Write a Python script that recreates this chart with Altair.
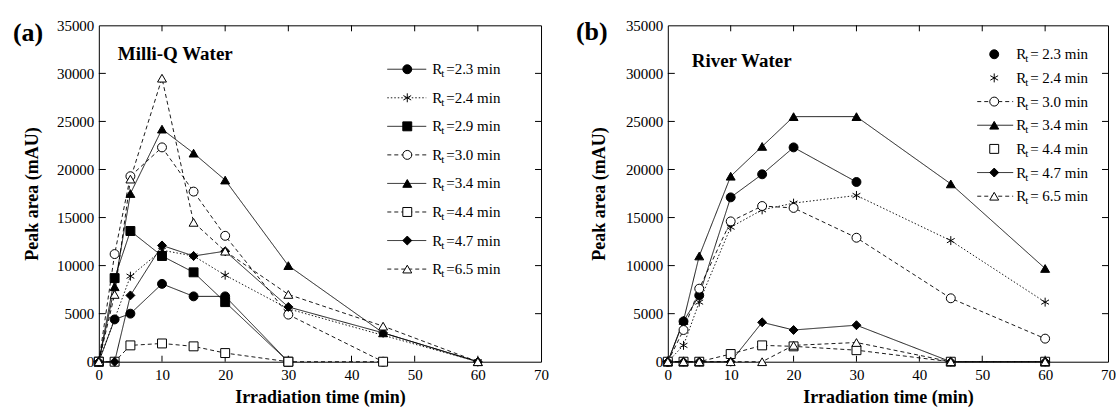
import altair as alt
import pandas as pd

FONT = "Liberation Serif"
H = 337

# Irradiation times (min)
TIME = [0, 2.5, 5, 10, 15, 20, 30, 45, 60]
X_LABELS = [0, 10, 20, 30, 40, 50, 60, 70]
X_TICKS = [10, 20, 30, 40, 50, 60]
Y_LABELS = [0, 5000, 10000, 15000, 20000, 25000, 30000, 35000]
Y_TICKS = [5000, 10000, 15000, 20000, 25000, 30000]

# (a) Milli-Q water: peak area (mAU) per retention time
MQ_RT23 = [0, 4400, 5000, 8100, 6800, 6800, 0, None, None]
MQ_RT24 = [0, None, 8900, 11600, 11000, 9000, 5500, None, 0]
MQ_RT29 = [0, 8700, 13600, 11000, 9300, 6200, 0, None, None]
MQ_RT30 = [0, 11200, 19300, 22300, 17700, 13100, 4900, 0, None]
MQ_RT34 = [0, 7800, 17500, 24200, 21700, 18900, 10000, 3000, 0]
MQ_RT44 = [0, 0, 1700, 1900, 1600, 900, 0, 0, None]
MQ_RT47 = [0, 0, 6900, 12100, 11000, 11500, 5700, 3000, 0]
MQ_RT65 = [0, 7000, 19000, 29500, 14500, 11500, 7000, 3700, 0]

# (b) River water: peak area (mAU) per retention time
RW_RT23 = [0, 4200, 6900, 17100, 19500, 22300, 18700, None, None]
RW_RT24 = [0, 1700, 6200, 14000, 15800, 16500, 17300, 12600, 6200]
RW_RT30 = [0, 3300, 7600, 14600, 16200, 16000, 12900, 6600, 2400]
RW_RT34 = [0, 4300, 11000, 19300, 22400, 25500, 25500, 18500, 9700]
RW_RT44 = [0, 0, 0, 800, 1700, 1600, 1200, 0, 0]
RW_RT47 = [0, 0, 0, 0, 4100, 3300, 3800, 0, 0]
RW_RT65 = [0, 0, 0, 0, 0, 1700, 2000, 0, 0]

MILLIQ = {"2.3": MQ_RT23, "2.4": MQ_RT24, "2.9": MQ_RT29, "3.0": MQ_RT30,
          "3.4": MQ_RT34, "4.4": MQ_RT44, "4.7": MQ_RT47, "6.5": MQ_RT65}
RIVER = {"2.3": RW_RT23, "2.4": RW_RT24, "3.0": RW_RT30, "3.4": RW_RT34,
         "4.4": RW_RT44, "4.7": RW_RT47, "6.5": RW_RT65}

KEYS = ["2.3", "2.4", "2.9", "3.0", "3.4", "4.4", "4.7", "6.5"]
ASTERISK = "M0,-1L0,1M-0.87,-0.5L0.87,0.5M-0.87,0.5L0.87,-0.5"
SHAPES = {"2.3": "circle", "2.4": ASTERISK, "2.9": "square", "3.0": "circle",
          "3.4": "triangle-up", "4.4": "square", "4.7": "diamond", "6.5": "triangle-up"}
FILLS = {"2.3": "black", "2.4": "transparent", "2.9": "black", "3.0": "white",
         "3.4": "black", "4.4": "white", "4.7": "black", "6.5": "white"}
DASH_A = {"2.3": [1, 0], "2.4": [1.5, 2], "2.9": [1, 0], "3.0": [4, 3],
          "3.4": [1, 0], "4.4": [4, 3], "4.7": [1, 0], "6.5": [4, 3]}
DASH_B = {"2.3": [1, 0], "2.4": [1.5, 2], "2.9": [1, 0], "3.0": [2, 2],
          "3.4": [1, 0], "4.4": [3, 2], "4.7": [1, 0], "6.5": [2, 2]}

SHAPE_SCALE = alt.Scale(domain=KEYS, range=[SHAPES[k] for k in KEYS])


def long_table(series):
    rows = []
    for k, key in enumerate(series):
        for t, v in zip(TIME, series[key]):
            if v is not None:
                rows.append({"rt": key, "k": k, "time": t, "area": v, "fill": FILLS[key]})
    return pd.DataFrame(rows)


def x_enc():
    return alt.X("time:Q", scale=alt.Scale(domain=[0, 70], nice=False, zero=False),
                 axis=alt.Axis(values=X_LABELS, title="Irradiation time (min)", ticks=False,
                               domain=False, grid=False, labelFont=FONT, titleFont=FONT,
                               labelColor="black", titleColor="black",
                               labelFontSize=15, labelPadding=6,
                               labelFlush=False, labelOverlap=False, titleFontSize=18,
                               titleFontWeight="bold", titlePadding=6))


def y_enc(title_pad):
    return alt.Y("area:Q", scale=alt.Scale(domain=[0, 35000], nice=False),
                 axis=alt.Axis(values=Y_LABELS, format="d", title="Peak area (mAU)", ticks=False,
                               domain=False, grid=False, labelFont=FONT, titleFont=FONT,
                               labelColor="black", titleColor="black",
                               labelFontSize=15, labelPadding=5,
                               labelFlush=False, labelOverlap=False, titleFontSize=18,
                               titleFontWeight="bold", titlePadding=title_pad))


def panel(tag, heading, series, dash, leg_keys, leg_lines, width, g):
    dash_scale = alt.Scale(domain=KEYS, range=[dash[k] for k in KEYS])
    df = long_table(series)
    base = alt.Chart(df)

    lines = base.mark_line(color="black", strokeWidth=0.9).encode(
        x=x_enc(), y=y_enc(g["ytp"]), detail="rt:N", order="time:Q",
        strokeDash=alt.StrokeDash("rt:N", scale=dash_scale, legend=None))
    points = base.mark_point(filled=True, size=80, stroke="black", strokeWidth=1, opacity=1).encode(
        x=x_enc(), y=y_enc(g["ytp"]),
        shape=alt.Shape("rt:N", scale=SHAPE_SCALE, legend=None),
        fill=alt.Fill("fill:N", scale=None), order=alt.Order("k:Q"))

    # inward tick marks on all four sides
    xt = alt.Chart(pd.DataFrame({"time": X_TICKS}))
    yt = alt.Chart(pd.DataFrame({"area": Y_TICKS}))
    t_top = xt.mark_rule(color="black").encode(x=x_enc(), y=alt.value(0), y2=alt.value(6))
    t_bot = xt.mark_rule(color="black").encode(x=x_enc(), y=alt.value(H - 6), y2=alt.value(H))
    t_left = yt.mark_rule(color="black").encode(y=y_enc(g["ytp"]), x=alt.value(0), x2=alt.value(7))
    t_right = yt.mark_rule(color="black").encode(y=y_enc(g["ytp"]), x=alt.value(width - 6), x2=alt.value(width))

    # legend block
    n = len(leg_keys)
    leg = pd.DataFrame({
        "rt": leg_keys,
        "py": [g["leg_top"] + i * g["leg_step"] for i in range(n)],
        "fill": [FILLS[k] for k in leg_keys],
        "line": [k in leg_lines for k in leg_keys],
        "label": [g["fmt"].format(k) for k in leg_keys],
    })
    py = alt.Y("py:Q", scale=None, axis=None)
    lg_rule = alt.Chart(leg[leg["line"]]).mark_rule(color="black", strokeWidth=0.9).encode(
        x=alt.value(g["lx1"]), x2=alt.value(g["lx2"]), y=py,
        strokeDash=alt.StrokeDash("rt:N", scale=dash_scale, legend=None))
    lg_pts = alt.Chart(leg).mark_point(filled=True, size=80, stroke="black", strokeWidth=1, opacity=1).encode(
        x=alt.value(g["mx"]), y=py,
        shape=alt.Shape("rt:N", scale=SHAPE_SCALE, legend=None),
        fill=alt.Fill("fill:N", scale=None))
    lg_r = alt.Chart(leg).mark_text(font=FONT, fontSize=g["fs"], align="left", baseline="middle",
                                    color="black").encode(x=alt.value(g["rx"]), y=py, text=alt.value("R"))
    lg_t = alt.Chart(leg).mark_text(font=FONT, fontSize=g["fs"] - 4, align="left", baseline="middle",
                                    color="black", dy=5).encode(x=alt.value(g["tx"]), y=py, text=alt.value("t"))
    lg_lab = alt.Chart(leg).mark_text(font=FONT, fontSize=g["fs"], align="left", baseline="middle",
                                      color="black").encode(x=alt.value(g["labx"]), y=py, text="label:N")

    head = alt.Chart(pd.DataFrame({"s": [heading]})).mark_text(
        font=FONT, fontSize=g["hs"], fontWeight="bold", align="left", baseline="middle",
        color="black").encode(x=alt.value(g["hx"]), y=alt.value(g["hy"]), text="s:N")
    tag_mark = alt.Chart(pd.DataFrame({"s": [tag]})).mark_text(
        font=FONT, fontSize=26, fontWeight="bold", align="left", baseline="middle",
        color="black").encode(x=alt.value(g["tagx"]), y=alt.value(g["tagy"]), text="s:N")

    return alt.layer(t_top, t_bot, t_left, t_right, lines, points, lg_rule, lg_pts,
                     lg_r, lg_t, lg_lab, head, tag_mark).properties(width=width, height=H)


GEO_A = dict(ytp=15, leg_top=44, leg_step=28.6, fmt="={} min", lx1=289, lx2=328, mx=309,
             rx=334, tx=343, labx=348, fs=15, hs=19, hx=19, hy=29, tagx=-86, tagy=7.5)
GEO_B = dict(ytp=17, leg_top=29, leg_step=23.7, fmt="= {} min", lx1=310, lx2=346, mx=327,
             rx=349, tx=358, labx=363, fs=15, hs=19, hx=24, hy=36, tagx=-92, tagy=6.5)

pa = panel("(a)", "Milli-Q Water", MILLIQ, DASH_A, KEYS, KEYS, 443, GEO_A)
pb = panel("(b)", "River Water", RIVER, DASH_B,
           ["2.3", "2.4", "3.0", "3.4", "4.4", "4.7", "6.5"], ["3.0", "3.4", "4.7", "6.5"], 441, GEO_B)

chart = alt.hconcat(pa, pb, spacing=26).properties(
    padding={"left": 12, "top": 17, "right": 0, "bottom": 0},
    background="white",
).configure_view(stroke="black", strokeWidth=1).configure_axis(
    labelFont=FONT, titleFont=FONT, labelColor="black", titleColor="black")

chart.save("out.html", embed_options={"renderer": "svg", "actions": False})
